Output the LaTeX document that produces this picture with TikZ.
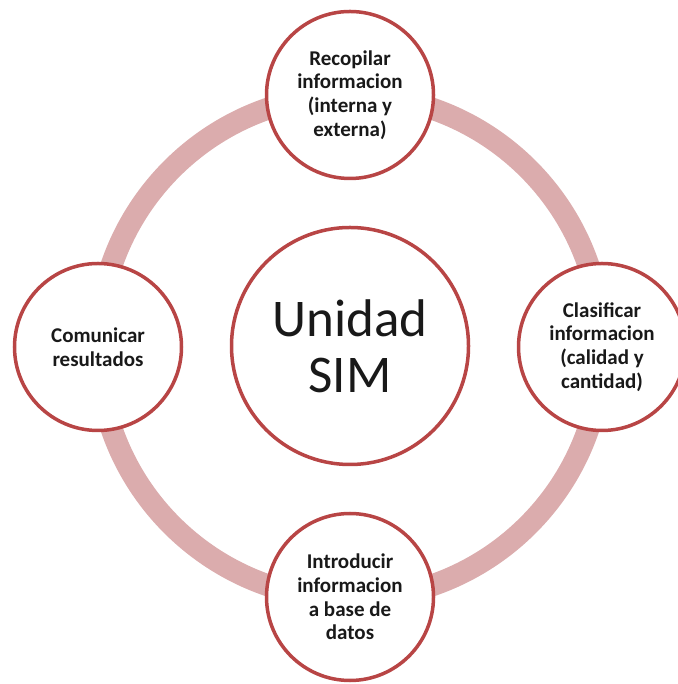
\documentclass[tikz,border=0pt]{standalone}
\usepackage{fontspec}
\setmainfont{Carlito}
\definecolor{anillo}{HTML}{DBACAD}
\definecolor{borde}{HTML}{B84545}

\begin{document}
\begin{tikzpicture}[x=0.5pt,y=0.5pt,
  etapa/.style={circle, draw=borde, line width=1.75pt, fill=white, minimum size=83.5pt, inner sep=0pt, align=center, text=black!90, font=\bfseries\fontsize{10.5}{11.8}\selectfont},
  nucleo/.style={etapa, minimum size=118.5pt, font=\fontsize{26.5}{28}\selectfont}]
\useasboundingbox (0,0) rectangle (678,684);
\draw[anillo, line width=11pt] (350,337) circle (252);
\node[nucleo] (sim) at (350,338) {Unidad\\SIM};

\node[etapa] (recopilar) at (350,589) {Recopilar\\informacion\\(interna y\\externa)};
\node[etapa] (clasificar) at (602,337) {Clasificar\\informacion\\(calidad y\\cantidad)};
\node[etapa] (introducir) at (350,87) {Introducir\\informacion\\a base de\\datos};
\node[etapa] (comunicar) at (98,337) {Comunicar\\resultados};
\end{tikzpicture}
\end{document}
